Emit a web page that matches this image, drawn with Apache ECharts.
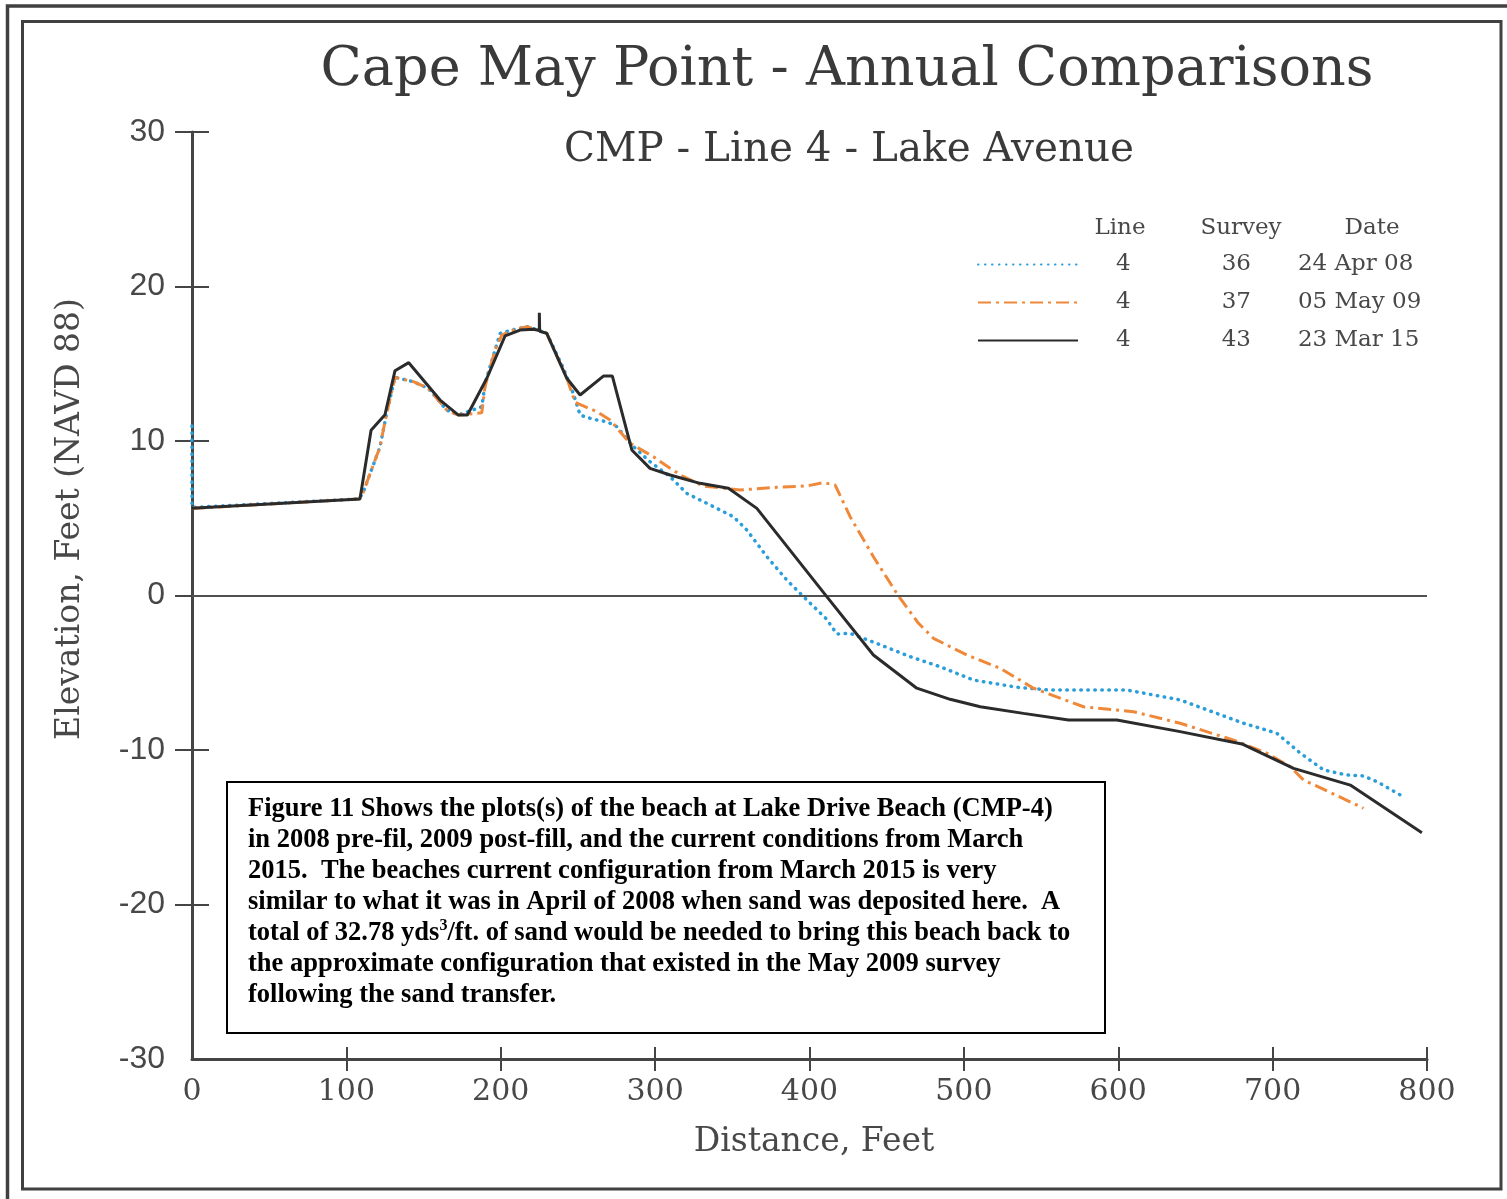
<!DOCTYPE html>
<html>
<head>
<meta charset="utf-8">
<script src="https://cdn.jsdelivr.net/npm/echarts@6/dist/echarts.min.js"></script>
<style>
html,body{margin:0;padding:0;background:#fff;}
#c{width:1507px;height:1199px;}
</style>
</head>
<body>
<div id="c"></div>
<script>
// ---- data (Distance ft, Elevation ft NAVD88) ----
const apr08X = [0, 0, 108, 110.6, 121.8, 126.1, 131.5, 143.4, 153.1, 165, 172.6, 187.7, 190, 199.6, 208, 216.9, 224.4, 229.8, 240.6, 247, 251.4, 260, 268.7, 275.2, 284.9, 296.7, 309.7, 320.5, 335.6, 350.7, 359.4, 372.4, 385.3, 398.3, 411.2, 417.7, 426.3, 443.6, 465.2, 484.6, 506.2, 534.3, 555.9, 605.6, 640.1, 681.2, 702.8, 718, 733, 748.1, 758.9, 767.6, 782.7];
const apr08Y = [10.97, 5.7, 6.25, 6.6, 9.63, 11.8, 14.12, 13.84, 13.4, 12.0, 11.68, 12.22, 13.8, 16.97, 17.2, 17.4, 17.18, 16.97, 14.7, 13.08, 11.68, 11.4, 11.25, 10.93, 9.74, 8.66, 7.69, 6.61, 5.86, 5.1, 4.24, 2.51, 1.0, -0.29, -1.54, -2.49, -2.45, -3.1, -3.96, -4.61, -5.47, -5.94, -6.12, -6.12, -6.76, -8.27, -8.92, -10.21, -11.29, -11.62, -11.68, -12.05, -12.91];

const may09X = [0, 108, 110.6, 121.8, 126.1, 131.5, 143.4, 153.1, 165, 172.6, 187.7, 189.8, 196.3, 200.7, 208.2, 216.9, 224.4, 229.8, 242.8, 248.2, 254.6, 262.2, 270.8, 283.8, 298.9, 309.7, 318.4, 331.3, 355, 378.9, 398.3, 409, 416.6, 426.3, 441.4, 457.6, 470.6, 480.3, 501.9, 523.5, 545.1, 577.5, 609.9, 640.1, 675.8, 696.3, 711.4, 720, 739.5, 758.9];
const may09Y = [5.64, 6.25, 6.6, 9.63, 11.8, 14.12, 13.84, 13.4, 12.0, 11.68, 11.83, 13.5, 15.9, 16.86, 17.18, 17.4, 17.18, 16.97, 14.06, 12.5, 12.22, 11.9, 11.36, 9.85, 8.98, 8.23, 7.69, 7.09, 6.83, 7.0, 7.09, 7.3, 7.15, 5.1, 2.51, -0.03, -1.8, -2.77, -3.85, -4.71, -6.0, -7.2, -7.52, -8.27, -9.4, -10.21, -11.08, -11.94, -12.85, -13.77];

const mar15X = [0, 108.8, 116, 125, 131.5, 140.4, 160.7, 172.6, 178.4, 191, 202.8, 212.5, 221.2, 225, 225, 225.2, 229.8, 242.8, 251.4, 266.5, 272.3, 284.9, 296.7, 309.7, 329.1, 347.5, 365.9, 411.2, 441.4, 469.5, 491.1, 510.6, 538.6, 567.8, 599.1, 640.1, 680.1, 713.6, 750.3, 796.7];
const mar15Y = [5.64, 6.25, 10.7, 11.7, 14.55, 15.07, 12.65, 11.68, 11.68, 14.06, 16.8, 17.18, 17.23, 17.15, 18.3, 17.1, 16.97, 14.06, 12.98, 14.2, 14.2, 9.42, 8.23, 7.8, 7.26, 6.94, 5.64, -0.07, -3.85, -6.0, -6.72, -7.2, -7.63, -8.06, -8.06, -8.81, -9.61, -11.19, -12.27, -15.35];

const seriesNames = ['24 Apr 08', '05 May 09', '23 Mar 15'];
const lineNums = ['4', '4', '4'];
const surveyNums = ['36', '37', '43'];

const xTicks = [100, 200, 300, 400, 500, 600, 700, 800];
const yTicks = [-20, -10, 0, 10, 20, 30];

const titleText = 'Cape May Point - Annual Comparisons';
const subTitleText = 'CMP - Line 4 - Lake Avenue';
const xName = 'Distance, Feet';
const yName = 'Elevation, Feet (NAVD 88)';
const noteLines = [
  'Figure 11 Shows the plots(s) of the beach at Lake Drive Beach (CMP-4)',
  'in 2008 pre-fil, 2009 post-fill, and the current conditions from March',
  '2015.  The beaches current configuration from March 2015 is very',
  'similar to what it was in April of 2008 when sand was deposited here.  A',
  'total of 32.78 yds{sup|3}/ft. of sand would be needed to bring this beach back to',
  'the approximate configuration that existed in the May 2009 survey',
  'following the sand transfer.'
];

function zip(xs, ys){ return xs.map((x,i)=>[x, ys[i]]); }

const serif = '"DejaVu Serif", serif';
const axisColor = '#454545';
const textColor = '#484848';

const chart = echarts.init(document.getElementById('c'), null, {renderer:'canvas'});

const option = {
  backgroundColor: '#fff',
  animation: false,
  grid: {left:192, top:132, width:1235, height:927, containLabel:false},
  xAxis: [
    {
      type:'value', min:0, max:800, interval:100,
      axisLine:{show:true, onZero:false, lineStyle:{color:axisColor, width:3}},
      axisTick:{show:true, inside:false, length:12, customValues:xTicks, lineStyle:{color:axisColor, width:2}},
      axisLabel:{show:true, margin:18, fontFamily:serif, fontSize:30, color:textColor},
      splitLine:{show:false}
    },
    {
      type:'value', min:0, max:800, interval:100, position:'bottom',
      axisLine:{show:false, onZero:false},
      axisTick:{show:true, inside:true, length:12, customValues:xTicks, lineStyle:{color:axisColor, width:2}},
      axisLabel:{show:false}, splitLine:{show:false}
    }
  ],
  yAxis: [
    {
      type:'value', min:-30, max:30, interval:10,
      axisLine:{show:true, onZero:false, lineStyle:{color:axisColor, width:3}},
      axisTick:{show:true, inside:false, length:17, customValues:yTicks, lineStyle:{color:axisColor, width:2}},
      axisLabel:{show:true, margin:27, fontFamily:'"Liberation Sans", Arial, sans-serif', fontSize:32, color:textColor},
      splitLine:{show:false}
    },
    {
      type:'value', min:-30, max:30, interval:10, position:'left',
      axisLine:{show:false, onZero:false},
      axisTick:{show:true, inside:true, length:17, customValues:yTicks, lineStyle:{color:axisColor, width:2}},
      axisLabel:{show:false}, splitLine:{show:false}
    }
  ],
  legend: {
    orient:'vertical', left:977, top:253, padding:0,
    itemWidth:100, itemHeight:14, itemGap:15, itemTextGap:10,
    selectedMode:false,
    itemStyle:{color:'rgba(0,0,0,0)', borderWidth:0, opacity:0},
    data: seriesNames,
    formatter: function(name){
      const i = seriesNames.indexOf(name);
      return '{a|' + lineNums[i] + '}{b|' + surveyNums[i] + '}{c|' + name + '}';
    },
    textStyle:{
      fontFamily:serif, fontSize:23, color:textColor,
      rich:{
        a:{padding:[0,0,0,33], fontFamily:serif, fontSize:23, color:textColor},
        b:{padding:[0,0,0,91], fontFamily:serif, fontSize:23, color:textColor},
        c:{padding:[0,0,0,47], fontFamily:serif, fontSize:23, color:textColor}
      }
    }
  },
  series: [
    {
      name:seriesNames[0], type:'line', data:zip(apr08X, apr08Y),
      xAxisIndex:0, yAxisIndex:0, symbol:'none', z:3,
      lineStyle:{color:'#2a9ddb', width:3.5, type:[0.5,6.5], cap:'round'},
      itemStyle:{color:'#2a9ddb'},
      markLine:{
        silent:true, symbol:'none', label:{show:false},
        lineStyle:{color:'#505050', width:2, type:'solid'},
        data:[{yAxis:0}]
      }
    },
    {
      name:seriesNames[1], type:'line', data:zip(may09X, may09Y),
      xAxisIndex:0, yAxisIndex:0, symbol:'none', z:4,
      lineStyle:{color:'#f0883a', width:3, type:[13,5,3,5]},
      itemStyle:{color:'#f0883a'}
    },
    {
      name:seriesNames[2], type:'line', data:zip(mar15X, mar15Y),
      xAxisIndex:0, yAxisIndex:0, symbol:'none', z:5,
      lineStyle:{color:'#2b2b2b', width:3, type:'solid'},
      itemStyle:{color:'#2b2b2b'}
    }
  ],
  graphic: [
    {type:'rect', silent:true, z:-1, shape:{x:7.5, y:6, width:1530, height:1230}, style:{fill:null, stroke:'#404040', lineWidth:3.5}},
    {type:'rect', silent:true, z:-1, shape:{x:22.5, y:21.5, width:1478.5, height:1167.5}, style:{fill:null, stroke:'#404040', lineWidth:3}},
    {type:'text', silent:true, x:847, y:71, style:{text:titleText, font:'54px "DejaVu Serif", serif', fill:'#3a3a3a', align:'center', verticalAlign:'middle'}},
    {type:'text', silent:true, x:849, y:150, style:{text:subTitleText, font:'40.5px "DejaVu Serif", serif', fill:'#3a3a3a', align:'center', verticalAlign:'middle'}},
    {type:'text', silent:true, x:1120, y:228, style:{text:'Line', font:'23px "DejaVu Serif", serif', fill:textColor, align:'center', verticalAlign:'middle'}},
    {type:'text', silent:true, x:1241, y:228, style:{text:'Survey', font:'23px "DejaVu Serif", serif', fill:textColor, align:'center', verticalAlign:'middle'}},
    {type:'text', silent:true, x:1372, y:228, style:{text:'Date', font:'23px "DejaVu Serif", serif', fill:textColor, align:'center', verticalAlign:'middle'}},
    {type:'text', silent:true, x:814, y:1142, style:{text:xName, font:'33px "DejaVu Serif", serif', fill:textColor, align:'center', verticalAlign:'middle'}},
    {type:'text', silent:true, x:70, y:519, rotation:Math.PI/2, style:{text:yName, font:'33px "DejaVu Serif", serif', fill:textColor, align:'center', verticalAlign:'middle'}},
    {type:'rect', silent:true, z:10, shape:{x:227, y:782, width:878, height:251}, style:{fill:'#fff', stroke:'#000', lineWidth:2}},
    {type:'text', silent:true, z:11, x:248, y:794, style:{
      text: noteLines.join('\n'),
      font:'bold 26.5px "Liberation Serif", "Times New Roman", serif', fill:'#000',
      lineHeight:31, align:'left', verticalAlign:'top',
      rich:{ sup:{fontSize:16, fontWeight:'bold', fontFamily:'"Liberation Serif", serif', fill:'#000', verticalAlign:'top', lineHeight:20} }
    }}
  ]
};
chart.setOption(option);
</script>
</body>
</html>
